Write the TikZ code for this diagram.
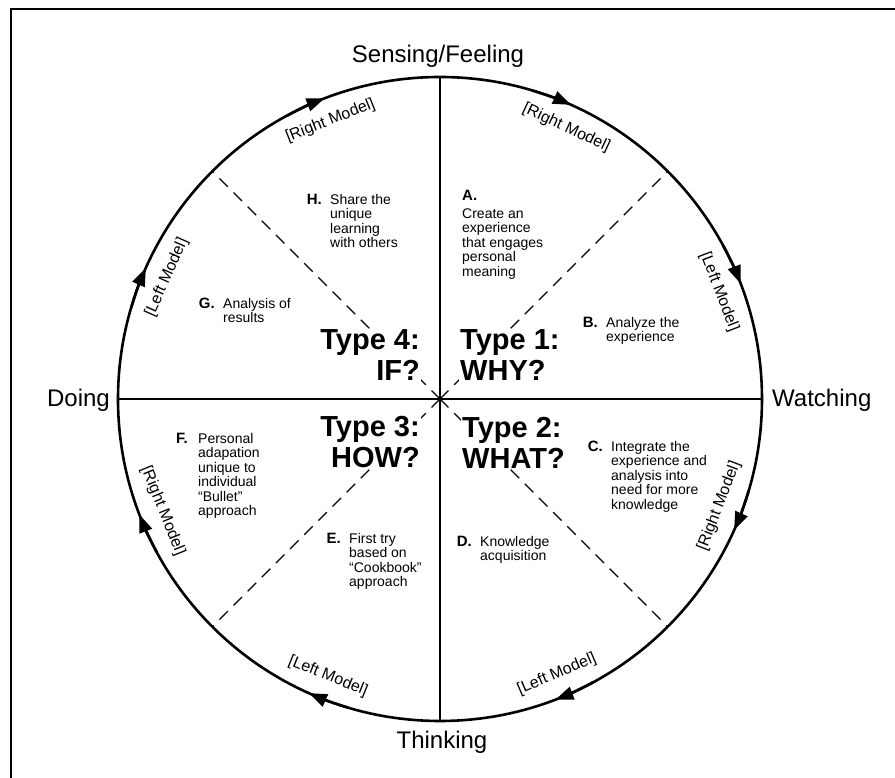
\documentclass[tikz,border=0pt]{standalone}
\usepackage{fontspec}
\setmainfont{Liberation Sans}
\usetikzlibrary{arrows.meta,positioning}

\begin{document}
\begin{tikzpicture}[x=1pt,y=1pt,
  axislbl/.style={font=\fontsize{24}{28}\selectfont,inner sep=0pt},
  typelbl/.style={font=\bfseries\fontsize{29}{31}\selectfont,fill=white,inner sep=1pt},
  itemtxt/.style={font=\fontsize{14}{14.5}\selectfont,align=left,inner sep=0pt,anchor=north west},
  itemkey/.style={font=\bfseries\fontsize{15}{15}\selectfont,inner sep=0pt},
  modellbl/.style={font=\fontsize{16}{16}\selectfont,inner sep=0pt},
  cyc/.style={line width=2.6pt},
  octant/.style={line width=1.3pt,dash pattern=on 12pt off 8pt}]
\useasboundingbox (-440,-379) rectangle (455,399);
% frame
\draw[line width=1.4pt] (-429,-379)--(-429,390)--(455,390);
% wheel
\coordinate (c) at (0,0);
\coordinate (n) at (90:322);\coordinate (s) at (-90:322);
\coordinate (w) at (180:322);\coordinate (e) at (0:322);
\draw[cyc] (c) circle[radius=322pt];
\draw[line width=1.3pt] (n)--(s);\draw[line width=1.3pt] (w)--(e);
\foreach \a in {45,135,225,315}
  \draw[octant] (c)--(\a:322);
% arrows on the rim, clockwise
\foreach \ang in {22.5,67.5,...,337.5}
  \draw[cyc,-{Triangle[length=18pt,width=13pt]}] (\ang+6:322) arc[start angle=\ang+6,end angle=\ang-1.5,radius=322pt];
\foreach \ang/\rot/\side [count=\i] in {111.5/21.5/Right,65/-25/Right,21/-69/Left,-21/69/Right,-67/23/Left,-112/-22/Left,-158/-68/Right,156/66/Left}
  \node[modellbl,rotate=\rot] (model\i) at (\ang:299) {[\side\ Model]};
% poles
\node[axislbl] (sense) at (-2,343) {Sensing/Feeling};
\node[axislbl] (think) at (2,-343) {Thinking};
\node[axislbl,anchor=east] (doing) at (-330,-1) {Doing};
\node[axislbl,anchor=west] (watch) at (332,-1) {Watching};
% the four types
\node[typelbl,align=right,anchor=east] (type4) at (-19,43.5) {Type 4:\\IF?};
\node[typelbl,align=left,anchor=west] (type1) at (19,43.5) {Type 1:\\WHY?};
\node[typelbl,align=right,anchor=east] (type3) at (-19,-43.5) {Type 3:\\HOW?};
\node[typelbl,align=left,anchor=west] (type2) at (21,-43.5) {Type 2:\\WHAT?};
% steps A--H
\node[itemtxt] (txtA) at (22,209) {\textbf{\fontsize{15}{15}\selectfont A.}\\[3pt]Create an\\experience\\that engages\\personal\\meaning};
\node[itemtxt] (txtB) at (166,82) {Analyze the\\experience};
\node[itemkey,left=8pt of txtB.north west,anchor=north east] (keyB) {B.};
\node[itemtxt] (txtC) at (171,-42) {Integrate the\\experience and\\analysis into\\need for more\\knowledge};
\node[itemkey,left=8pt of txtC.north west,anchor=north east] (keyC) {C.};
\node[itemtxt] (txtD) at (40,-137) {Knowledge\\acquisition};
\node[itemkey,left=8pt of txtD.north west,anchor=north east] (keyD) {D.};
\node[itemtxt] (txtE) at (-91,-134) {First try\\based on\\``Cookbook''\\approach};
\node[itemkey,left=8pt of txtE.north west,anchor=north east] (keyE) {E.};
\node[itemtxt] (txtF) at (-242,-34) {Personal\\adapation\\unique to\\individual\\``Bullet''\\approach};
\node[itemkey,left=10pt of txtF.north west,anchor=north east] (keyF) {F.};
\node[itemtxt] (txtG) at (-217,101) {Analysis of\\results};
\node[itemkey,left=8pt of txtG.north west,anchor=north east] (keyG) {G.};
\node[itemtxt] (txtH) at (-110,205) {Share the\\unique\\learning\\with others};
\node[itemkey,left=8pt of txtH.north west,anchor=north east] (keyH) {H.};
\end{tikzpicture}
\end{document}
